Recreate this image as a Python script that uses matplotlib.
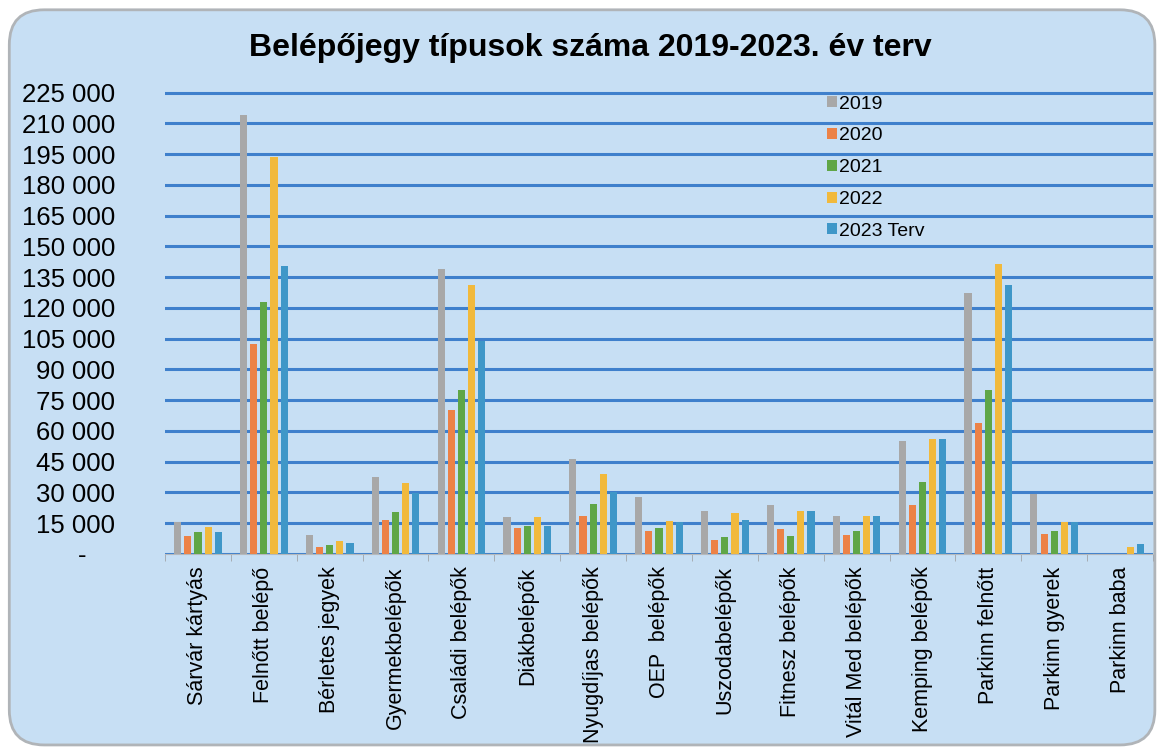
import numpy as np
import matplotlib.pyplot as plt
from matplotlib.patches import FancyBboxPatch

plt.rcParams['font.family'] = ['Liberation Sans', 'DejaVu Sans']

categories = ['Sárvár kártyás', 'Felnőtt belépő', 'Bérletes jegyek', 'Gyermekbelépők',
              'Családi belépők', 'Diákbelépők', 'Nyugdíjas belépők', 'OEP  belépők',
              'Uszodabelépők', 'Fitnesz belépők', 'Vitál Med belépők', 'Kemping belépők',
              'Parkinn felnőtt', 'Parkinn gyerek', 'Parkinn baba']

y2019 = [15400, 214300, 9300, 37300, 139100, 17900, 46300, 27600, 20800, 23900, 18700, 55200, 127400, 29200, 0]
y2020 = [8900, 102300, 3300, 16500, 70100, 12500, 18700, 11400, 7000, 12200, 9300, 23900, 64100, 9700, 0]
y2021 = [10600, 122900, 4400, 20600, 79900, 13800, 24400, 12500, 8400, 8900, 11400, 34900, 79900, 11400, 0]
y2022 = [13300, 193700, 6500, 34600, 131200, 17900, 39000, 15900, 20000, 21100, 18400, 56000, 141600, 15700, 3300]
y2023 = [10600, 140400, 5400, 29600, 103900, 13800, 30400, 15400, 16700, 21100, 18300, 56000, 131000, 15400, 4900]

series = [('2019', y2019, '#a8a8a8'), ('2020', y2020, '#ec8247'),
          ('2021', y2021, '#5fa647'), ('2022', y2022, '#f1b93c'),
          ('2023 Terv', y2023, '#3f97c8')]

yticks = list(range(0, 225001, 15000))
ytick_labels = ['-    '] + ['{:,}'.format(v).replace(',', ' ') for v in yticks[1:]]

bg = '#c7dff4'
fig = plt.figure(figsize=(11.63, 7.54), dpi=100)
fig.patch.set_facecolor('white')
frame = FancyBboxPatch((0.008, 0.012), 0.985, 0.975, boxstyle='round,pad=0,rounding_size=0.03',
                       transform=fig.transFigure, facecolor=bg, edgecolor='#b0b4b8',
                       linewidth=2, mutation_aspect=1.54, zorder=-10)
fig.patches.append(frame)

ax = fig.add_axes([0.1419, 0.2653, 0.8495, 0.6200])
ax.set_facecolor('none')
ax.set_zorder(5)

x = np.arange(len(categories))
stride = 0.154
width = 0.108
for i, (name, vals, col) in enumerate(series):
    ax.bar(x + (i - 2) * stride, vals, width, color=col, label=name, zorder=3)

ax.set_xlim(-0.5, len(categories) - 0.5)
ax.set_ylim(0, 228000)
ax.set_yticks(yticks)
ax.set_yticklabels(ytick_labels, fontsize=18.5)
ax.yaxis.grid(True, color='#3f80cc', linewidth=2.2, zorder=1)
ax.tick_params(axis='y', length=0, pad=36)
for lab in ax.get_yticklabels():
    lab.set_horizontalalignment('right')

ax.set_xticks(x)
ax.set_xticklabels(categories, rotation=90, fontsize=15.5)
ax.set_xticks(np.arange(-0.5, len(categories), 1), minor=True)
ax.tick_params(axis='x', which='major', length=0, pad=9)
ax.tick_params(axis='x', which='minor', length=5, color='#a0a4a8')

for s in ['top', 'right', 'left']:
    ax.spines[s].set_visible(False)
ax.spines['bottom'].set_color('#b5b9bd')

ax.legend(loc='upper left', bbox_to_anchor=(0.662, 0.997), frameon=False,
          fontsize=14, handlelength=0.5, handleheight=0.5, handletextpad=0.12,
          labelspacing=0.76, borderaxespad=0)

fig.text(0.508, 0.937, 'Belépőjegy típusok száma 2019-2023. év terv',
         ha='center', va='center', fontsize=23, fontweight='bold')

fig.savefig('out.png', dpi=100, facecolor='white')
